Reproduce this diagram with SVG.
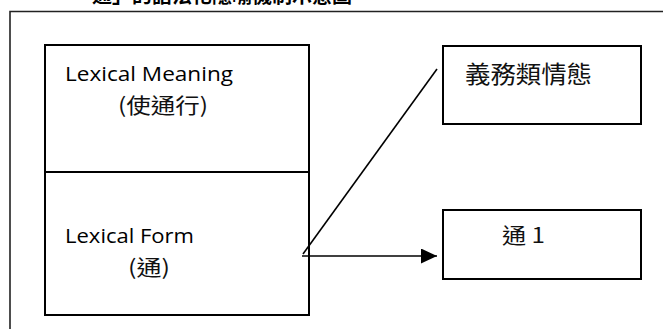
<svg xmlns="http://www.w3.org/2000/svg" width="663" height="329" viewBox="0 0 663 329">
<style>
.box{fill:#fff;stroke:#000;stroke-width:2}
.lat{font-family:"Open Sans","Liberation Sans",sans-serif;font-size:20.5px;fill:#000}
.cjk{font-family:"Noto Sans CJK TC","Noto Sans CJK SC",sans-serif;font-size:21px;fill:#111}
.conn{stroke:#000;stroke-width:1.6;fill:none}
</style>
<defs>
<marker id="ah" markerUnits="userSpaceOnUse" markerWidth="17" markerHeight="17" refX="16" refY="7.5" orient="auto">
<path d="M0,0 L16,7.5 L0,15 z" fill="#000"/>
</marker>
</defs>
<rect width="663" height="329" fill="#fff"/>
<text x="72" y="3" style="font-family:'Noto Sans CJK TC','Noto Sans CJK SC',sans-serif;font-size:20px;font-weight:bold;fill:#000">「通」的語法化隱喻機制示意圖</text>
<path d="M10,329 V11.5 H663" fill="none" stroke="#222" stroke-width="1.6"/>
<g id="lexical-meaning">
<rect class="box" x="45" y="45" width="264" height="127"/>
<text class="lat" x="65" y="81" textLength="168" lengthAdjust="spacingAndGlyphs">Lexical Meaning</text>
<text class="cjk" x="118" y="113" textLength="90" lengthAdjust="spacingAndGlyphs">(使通行)</text>
</g>
<g id="lexical-form">
<rect class="box" x="45" y="172" width="264" height="143"/>
<text class="lat" x="65" y="243" textLength="129" lengthAdjust="spacingAndGlyphs">Lexical Form</text>
<text class="cjk" x="128" y="275" textLength="42" lengthAdjust="spacingAndGlyphs">(通)</text>
</g>
<g id="deontic">
<rect class="box" x="443" y="46" width="198" height="78"/>
<text class="cjk" x="465" y="83" style="font-size:24px" textLength="127" lengthAdjust="spacingAndGlyphs">義務類情態</text>
</g>
<g id="tong1">
<rect class="box" x="443" y="210" width="198" height="69"/>
<text class="cjk" x="502" y="243" textLength="43" lengthAdjust="spacingAndGlyphs">通 1</text>
</g>
<g id="connectors">
<line class="conn" x1="303" y1="254" x2="437" y2="69"/>
<line class="conn" x1="302" y1="256" x2="437" y2="256" marker-end="url(#ah)"/>
</g>
</svg>
